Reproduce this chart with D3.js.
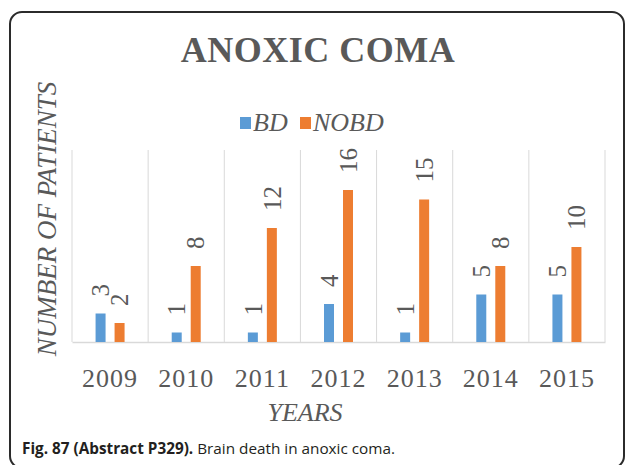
<!DOCTYPE html>
<html>
<head>
<meta charset="utf-8">
<script src="https://cdn.jsdelivr.net/npm/d3@7/dist/d3.min.js"></script>
<style>
  html, body { margin: 0; padding: 0; background: #fff; }
  svg { display: block; }
</style>
</head>
<body>
<script>
// Anoxic coma: patients with / without brain death per year
const years = ["2009", "2010", "2011", "2012", "2013", "2014", "2015"];
const series = ["BD", "NOBD"];
const bdValues = [3, 1, 1, 4, 1, 5, 5];
const nobdValues = [2, 8, 12, 16, 15, 8, 10];
const seriesColors = ["#5B9BD5", "#ED7D31"];

const W = 627, H = 465;
const svg = d3.select("body").append("svg").attr("width", W).attr("height", H);

// outer frame with rounded corners (bottom edge runs past the page)
svg.append("rect")
  .attr("x", 10).attr("y", 12)
  .attr("width", 614).attr("height", 456)
  .attr("rx", 12)
  .attr("fill", "none")
  .attr("stroke", "#2b2b2b")
  .attr("stroke-width", 2);

const plot = { left: 72, right: 605, top: 150, bottom: 342 };
const textColor = "#595959";
const serif = "'Liberation Serif', 'Times New Roman', serif";

const x0 = d3.scaleBand().domain(years).range([plot.left, plot.right]).padding(0);
const bw = x0.bandwidth();
const x1 = d3.scaleBand().domain(series)
  .range([bw / 2 - 14.5, bw / 2 + 14.5])
  .paddingInner(0.474).paddingOuter(0);
const y = d3.scaleLinear().domain([0, 20]).range([plot.bottom, plot.top + 2]);

// category separator lines
const bounds = years.map(d => x0(d)).concat([plot.right]);
svg.append("g").selectAll("line").data(bounds).join("line")
  .attr("x1", d => d).attr("x2", d => d)
  .attr("y1", plot.top).attr("y2", plot.bottom)
  .attr("stroke", "#d9d9d9").attr("stroke-width", 1);

// x axis (baseline + year labels)
const xAxis = d3.axisBottom(x0).tickSize(0).tickPadding(26);
const gx = svg.append("g").attr("transform", `translate(0,${plot.bottom})`).call(xAxis);
gx.select(".domain").attr("stroke", "#d9d9d9").attr("stroke-width", 1.5);
gx.selectAll("text")
  .attr("font-family", serif)
  .attr("font-size", 26)
  .attr("letter-spacing", 1)
  .attr("fill", textColor)
  .attr("dy", "0.72em");

const rows = years.map((yr, i) => ({ year: yr, values: [bdValues[i], nobdValues[i]] }));

const groups = svg.append("g").selectAll("g").data(rows).join("g")
  .attr("transform", d => `translate(${x0(d.year)},0)`);

groups.selectAll("rect")
  .data(d => d.values.map((v, j) => ({ key: series[j], value: v, color: seriesColors[j] })))
  .join("rect")
  .attr("x", d => x1(d.key))
  .attr("width", x1.bandwidth())
  .attr("y", d => y(d.value))
  .attr("height", d => y(0) - y(d.value))
  .attr("fill", d => d.color);

// rotated value labels above each bar
groups.selectAll("text")
  .data(d => d.values.map((v, j) => ({ key: series[j], value: v })))
  .join("text")
  .attr("transform", d => `translate(${x1(d.key) + x1.bandwidth() / 2},${y(d.value) - 17}) rotate(-90)`)
  .attr("dy", "0.35em")
  .attr("font-family", serif)
  .attr("font-size", 25)
  .attr("fill", textColor)
  .text(d => d.value);

// title
svg.append("text")
  .attr("x", 318).attr("y", 62)
  .attr("text-anchor", "middle")
  .attr("font-family", serif)
  .attr("font-size", 36)
  .attr("font-weight", "bold")
  .attr("letter-spacing", 0.5)
  .attr("fill", textColor)
  .text("ANOXIC COMA");

// legend
const legend = svg.append("g").attr("transform", "translate(240,131)");
const legendItems = [
  { key: series[0], color: seriesColors[0], dx: 0 },
  { key: series[1], color: seriesColors[1], dx: 60 }
];
const li = legend.selectAll("g").data(legendItems).join("g")
  .attr("transform", d => `translate(${d.dx},0)`);
li.append("rect").attr("x", 0).attr("y", -14).attr("width", 11).attr("height", 12).attr("fill", d => d.color);
li.append("text").attr("x", 13).attr("y", 0)
  .attr("font-family", serif).attr("font-style", "italic").attr("font-size", 26)
  .attr("fill", textColor)
  .text(d => d.key);

// axis titles
svg.append("text")
  .attr("transform", "translate(56,219) rotate(-90)")
  .attr("text-anchor", "middle")
  .attr("font-family", serif).attr("font-style", "italic").attr("font-size", 27)
  .attr("fill", textColor)
  .text("NUMBER OF PATIENTS");

svg.append("text")
  .attr("x", 305).attr("y", 421)
  .attr("text-anchor", "middle")
  .attr("font-family", serif).attr("font-style", "italic").attr("font-size", 26)
  .attr("fill", textColor)
  .text("YEARS");

// figure caption
const cap = svg.append("text")
  .attr("x", 22).attr("y", 454)
  .attr("font-family", "'Open Sans', 'Noto Sans', sans-serif")
  .attr("font-size", 15.3)
  .attr("fill", "#231f20");
cap.append("tspan").attr("font-weight", "bold").text("Fig. 87 (Abstract P329).");
cap.append("tspan").text(" Brain death in anoxic coma.");
</script>
</body>
</html>
